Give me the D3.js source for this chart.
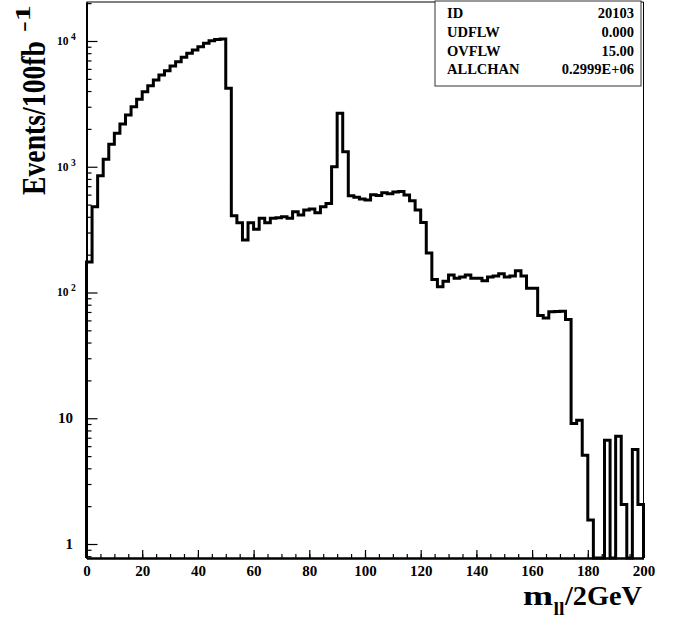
<!DOCTYPE html>
<html>
<head>
<meta charset="utf-8">
<script src="https://cdn.jsdelivr.net/npm/d3@7/dist/d3.min.js"></script>
<style>
body { margin: 0; background: #fff; }
text { font-family: "Liberation Serif", "DejaVu Serif", serif; font-weight: bold; fill: #000; }
</style>
</head>
<body>
<div id="root"></div>
<script>
// histogram: 100 bins of 2 GeV from 0 to 200
let xDomain = [0, 200];
let binWidth = 2;
let counts = [
    175, 481, 848, 1145, 1508, 1844, 2187, 2579, 3001, 3436,
    3952, 4409, 4893, 5366, 5803, 6327, 6843, 7418, 7980, 8479,
    9010, 9590, 10050, 10280, 10370, 4205, 407, 358, 261, 358,
    319, 389, 358, 389, 393, 400, 389, 439, 413, 452,
    461, 430, 481, 511, 1000, 2659, 1316, 588, 571, 553,
    543, 599, 592, 621, 610, 629, 635, 595, 536, 452,
    361, 206, 127, 111, 123, 138, 130, 133, 138, 130,
    130, 124, 133, 135, 141, 133, 135, 149, 135, 108,
    108, 65.5, 62.6, 70.2, 70.7, 71.1, 60.9, 9.1, 9.66, 5.09,
    1.55, 0, 0, 6.7, 0, 7.2, 2.06, 0, 5.65, 2.06
];

let xTicks = [0, 20, 40, 60, 80, 100, 120, 140, 160, 180, 200];
let yDomain = [0.774, 20420];
let yTicks = [1, 10, 100, 1000, 10000];
let yTickBase = ['1', '10', '10', '10', '10'];
let yTickPower = ['', '', '2', '3', '4'];

let statNames = ['ID', 'UDFLW', 'OVFLW', 'ALLCHAN'];
let statValues = ['20103', '0.000', '15.00', '0.2999E+06'];

let width = 680;
let height = 618;
let frame = {left: 86.5, right: 643.5, top: 2, bottom: 558};

let svg = d3.select('#root')
    .append('svg')
    .attr('width', width)
    .attr('height', height);

let x = d3.scaleLinear().domain(xDomain).range([frame.left, frame.right]);
let y = d3.scaleLog().domain(yDomain).range([frame.bottom, frame.top]);

// frame top and right
svg.append('path')
    .attr('d', `M${frame.left},${frame.top}H${frame.right}V${frame.bottom}`)
    .attr('fill', 'none')
    .attr('stroke', '#000')
    .attr('stroke-width', 1);

// histogram outline
let floor = yDomain[0];
let steps = [[xDomain[0], floor]];
counts.forEach((c, i) => {
    steps.push([i * binWidth, c], [(i + 1) * binWidth, c]);
});
steps.push([xDomain[1], floor]);

let line = d3.line()
    .x(d => x(d[0]))
    .y(d => y(Math.max(d[1], floor)));

svg.append('path')
    .attr('d', line(steps))
    .attr('fill', 'none')
    .attr('stroke', '#000')
    .attr('stroke-width', 3)
    .attr('stroke-linejoin', 'miter');

// x axis
let xMinor = d3.range(xDomain[0], xDomain[1] + 1, 5);

svg.append('g')
    .attr('transform', `translate(0,${frame.bottom})`)
    .call(d3.axisBottom(x).tickValues(xMinor).tickSize(-4).tickSizeOuter(0).tickFormat(''));

let xAxis = svg.append('g')
    .attr('transform', `translate(0,${frame.bottom})`)
    .call(d3.axisBottom(x).tickValues(xTicks).tickSize(-8).tickSizeOuter(0).tickPadding(7));

xAxis.selectAll('text')
    .attr('font-size', 15)
    .attr('font-family', null);

// y axis
let yMinor = [];
[0.1, 1, 10, 100, 1000, 10000].forEach(d => {
    for (let k = 2; k <= 9; k++) {
        let v = k * d;
        if (v > yDomain[0] && v < yDomain[1]) yMinor.push(v);
    }
});

svg.append('g')
    .attr('transform', `translate(${frame.left},0)`)
    .call(d3.axisLeft(y).tickValues(yMinor).tickSize(-5).tickSizeOuter(0).tickFormat(''));

svg.append('g')
    .attr('transform', `translate(${frame.left},0)`)
    .call(d3.axisLeft(y).tickValues(yTicks).tickSize(-11).tickSizeOuter(0).tickFormat(''));

svg.selectAll('.domain').attr('stroke-width', 2);
svg.selectAll('.tick line').attr('stroke-width', 1.2);

let yLabels = svg.append('g');
yTicks.forEach((t, i) => {
    if (yTickPower[i]) {
        yLabels.append('text')
            .attr('x', 68.5)
            .attr('y', y(t) + 4)
            .attr('text-anchor', 'end')
            .attr('font-size', 11.5)
            .text(yTickBase[i]);
        yLabels.append('text')
            .attr('x', 71)
            .attr('y', y(t) - 1)
            .attr('font-size', 9.5)
            .text(yTickPower[i]);
    } else {
        yLabels.append('text')
            .attr('x', 73)
            .attr('y', y(t) + 5)
            .attr('text-anchor', 'end')
            .attr('font-size', 15)
            .text(yTickBase[i]);
    }
});

// axis titles
svg.append('text')
    .attr('transform', 'translate(45,195) rotate(-90)')
    .attr('font-size', 33)
    .attr('textLength', 154)
    .attr('lengthAdjust', 'spacingAndGlyphs')
    .text('Events/100fb');

svg.append('text')
    .attr('transform', 'translate(30,32) rotate(-90)')
    .attr('font-size', 22)
    .attr('textLength', 27)
    .attr('lengthAdjust', 'spacingAndGlyphs')
    .text('-1');

svg.append('text')
    .attr('x', 523).attr('y', 604.5)
    .attr('font-size', 28)
    .attr('textLength', 30)
    .attr('lengthAdjust', 'spacingAndGlyphs')
    .text('m');

svg.append('text')
    .attr('x', 553.5).attr('y', 614.5)
    .attr('font-size', 19)
    .attr('textLength', 11)
    .attr('lengthAdjust', 'spacingAndGlyphs')
    .text('ll');

svg.append('text')
    .attr('x', 565).attr('y', 604.5)
    .attr('font-size', 28)
    .attr('textLength', 77)
    .attr('lengthAdjust', 'spacingAndGlyphs')
    .text('/2GeV');

// stat box
let box = svg.append('g');
box.append('rect')
    .attr('x', 435)
    .attr('y', 1)
    .attr('width', 206)
    .attr('height', 85)
    .attr('fill', '#fff')
    .attr('stroke', '#333')
    .attr('stroke-width', 1);

statNames.forEach((name, i) => {
    box.append('text')
        .attr('x', 447)
        .attr('y', 18 + i * 18.8)
        .attr('font-size', 14.5)
        .text(name);
    box.append('text')
        .attr('x', 634)
        .attr('y', 18 + i * 18.8)
        .attr('text-anchor', 'end')
        .attr('font-size', 14.5)
        .text(statValues[i]);
});
</script>
</body>
</html>
